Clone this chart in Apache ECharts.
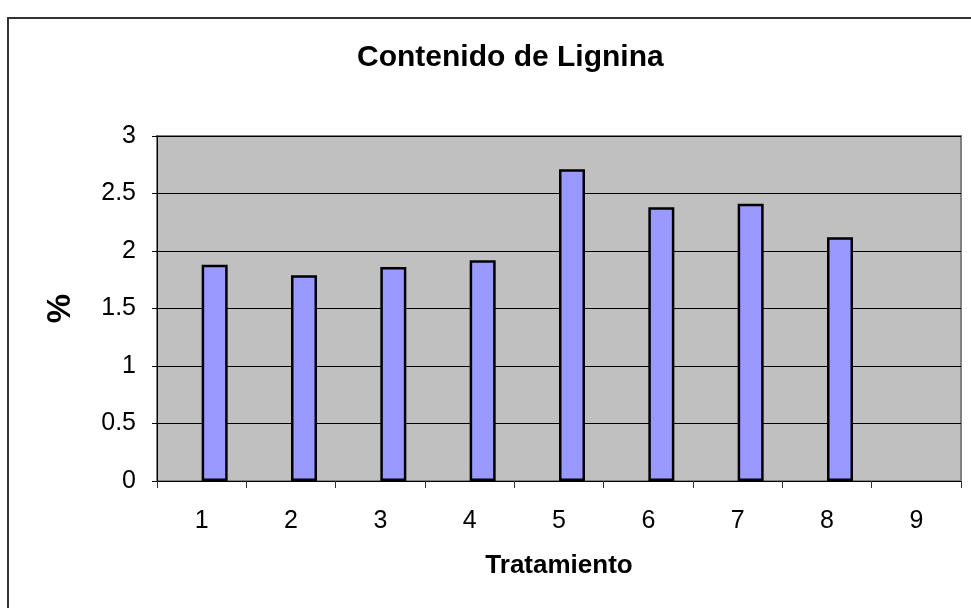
<!DOCTYPE html>
<html>
<head>
<meta charset="utf-8">
<title>Contenido de Lignina</title>
<script src="https://cdn.jsdelivr.net/npm/echarts@6/dist/echarts.min.js"></script>
<style>
  html, body { margin: 0; padding: 0; background: #fff; }
  #chart { width: 971px; height: 608px; }
</style>
</head>
<body>
<div id="chart"></div>
<script>
// tratamientos 1..9
var categories = ["1", "2", "3", "4", "5", "6", "7", "8", "9"];
// % de lignina (el 9 sin dato)
var lignina = [1.88, 1.79, 1.86, 1.92, 2.71, 2.38, 2.41, 2.12, null];
// serie vacia: en el original la barra queda a la derecha del centro
var vacia = [null, null, null, null, null, null, null, null, null];
var yTicks = { min: 0, max: 3, interval: 0.5 };

var font = "'Liberation Sans', Arial, sans-serif";
var myChart = echarts.init(document.getElementById("chart"), null, { renderer: "canvas" });

var option = {
  animation: false,
  backgroundColor: "#ffffff",
  title: {
    text: "Contenido de Lignina",
    left: 352,
    top: 38,
    textStyle: { fontFamily: font, fontSize: 30, fontWeight: "bold", color: "#000" }
  },
  graphic: [
    {
      type: "rect",
      shape: { x: 8, y: 18, width: 1000, height: 700 },
      style: { fill: null, stroke: "#333", lineWidth: 2 },
      silent: true
    }
  ],
  grid: {
    left: 157,
    top: 136,
    right: 10,
    bottom: 127,
    show: true,
    backgroundColor: "#c0c0c0",
    borderColor: "#808080",
    borderWidth: 2
  },
  xAxis: {
    type: "category",
    data: categories,
    name: "Tratamiento",
    nameLocation: "middle",
    nameGap: 72,
    nameTextStyle: { fontFamily: font, fontSize: 26, fontWeight: "bold", color: "#000" },
    axisLine: { lineStyle: { color: "#000", width: 1 } },
    axisTick: { show: true, length: 7, lineStyle: { color: "#333" } },
    axisLabel: { margin: 28, fontFamily: font, fontSize: 25, color: "#000" },
    splitLine: { show: false }
  },
  yAxis: {
    type: "value",
    min: yTicks.min,
    max: yTicks.max,
    interval: yTicks.interval,
    name: "%",
    nameLocation: "middle",
    nameGap: 80,
    nameRotate: 90,
    nameTextStyle: { fontFamily: font, fontSize: 33, fontWeight: "bold", color: "#000" },
    axisLine: { show: true, lineStyle: { color: "#000", width: 1 } },
    axisTick: { show: true, length: 5, lineStyle: { color: "#000" } },
    axisLabel: { margin: 21, fontFamily: font, fontSize: 25, color: "#000" },
    splitLine: { show: true, lineStyle: { color: "#000", width: 1 } }
  },
  series: [
    {
      name: "vacia",
      type: "bar",
      data: vacia,
      barWidth: 26,
      barGap: "0%"
    },
    {
      name: "Lignina",
      type: "bar",
      data: lignina,
      barWidth: 26,
      barGap: "0%",
      itemStyle: { color: "#9999ff", borderColor: "#000", borderWidth: 2.5 }
    }
  ]
};

myChart.setOption(option, true);
</script>
</body>
</html>
